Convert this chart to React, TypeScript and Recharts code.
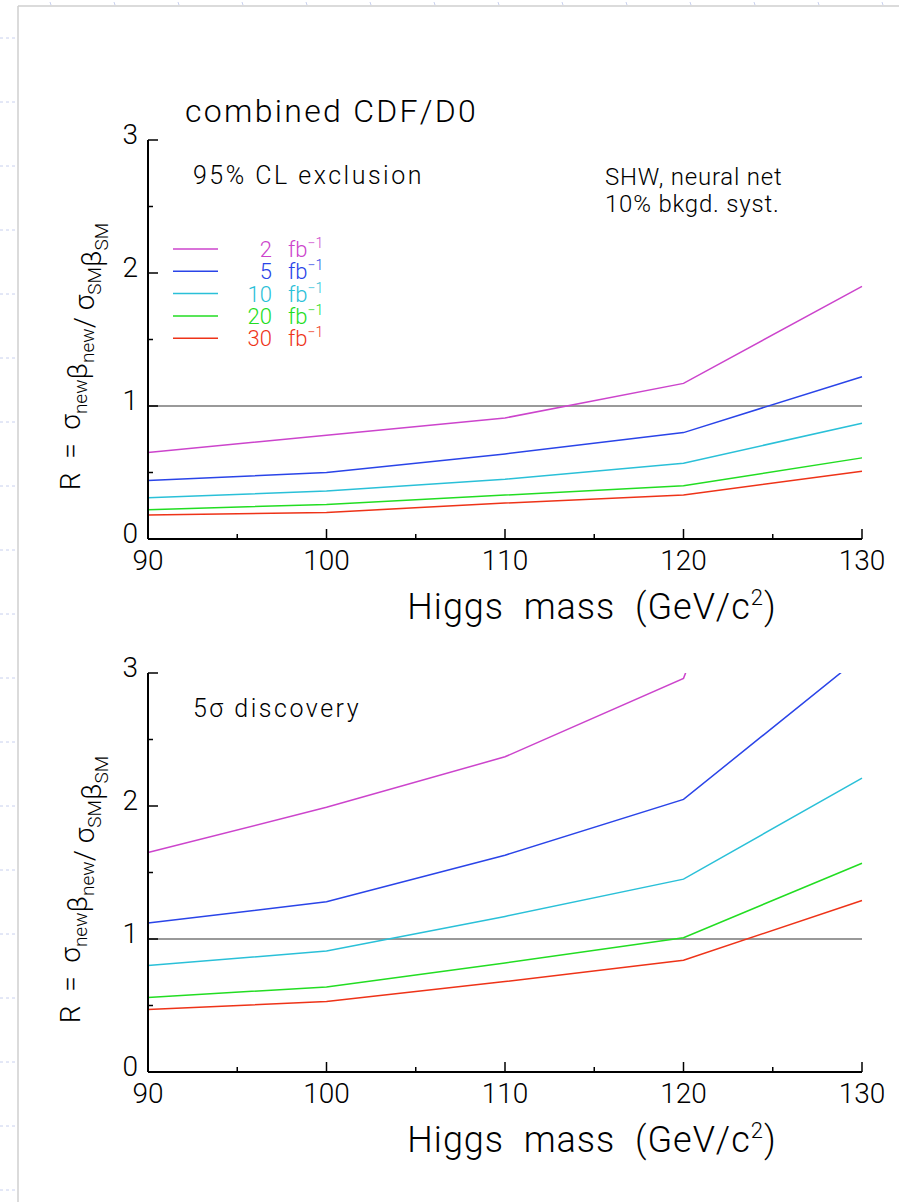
import React from "react";
import { LineChart, Line, XAxis, YAxis, ReferenceLine, Legend } from "recharts";

// Higgs mass points (GeV/c^2)
const masses = [90, 100, 110, 120, 130];
const lumiLabels = ["2", "5", "10", "20", "30"];
const lumiColors = ["#cc44cc", "#2a44e8", "#2ac0d8", "#22dd22", "#ee3318"];

// 95% CL exclusion, R per luminosity
const excl2 = [0.65, 0.78, 0.91, 1.17, 1.9];
const excl5 = [0.44, 0.5, 0.64, 0.8, 1.22];
const excl10 = [0.31, 0.36, 0.45, 0.57, 0.87];
const excl20 = [0.22, 0.26, 0.33, 0.4, 0.61];
const excl30 = [0.18, 0.2, 0.27, 0.33, 0.51];

// 5 sigma discovery, R per luminosity
const disc2 = [1.65, 1.99, 2.37, 2.96, 6.4];
const disc5 = [1.12, 1.28, 1.63, 2.05, 3.13];
const disc10 = [0.8, 0.91, 1.17, 1.45, 2.21];
const disc20 = [0.56, 0.64, 0.82, 1.01, 1.57];
const disc30 = [0.47, 0.53, 0.68, 0.84, 1.29];

const xTicks = [90, 95, 100, 105, 110, 115, 120, 125, 130];
const yTicks = [0, 0.5, 1, 1.5, 2, 2.5, 3];

const FONT = "Roboto, 'Liberation Sans', Arial, sans-serif";
const W = 300;
const MAJ = 10;
const MIN = 5;

function BottomTick(p: any) {
  const { x, y, payload } = p;
  const axisY = y - 10;
  const major = payload.value % 10 === 0;
  return (
    <g>
      <line x1={x} x2={x} y1={axisY} y2={axisY - (major ? MAJ : MIN)} stroke="#000" strokeWidth={1.5} />
      {major && (
        <text x={x} y={axisY + 31} textAnchor="middle" fontSize={28} fontWeight={W} fill="#000">
          {payload.value}
        </text>
      )}
    </g>
  );
}

function TopTick(p: any) {
  const { x, y, payload } = p;
  const major = payload.value % 10 === 0;
  return <line x1={x} x2={x} y1={y} y2={y + (major ? MAJ : MIN)} stroke="#000" strokeWidth={1.5} />;
}

function LeftTick(p: any) {
  const { x, y, payload } = p;
  const axisX = x + 10;
  const major = Number.isInteger(payload.value);
  return (
    <g>
      <line x1={axisX} x2={axisX + (major ? MAJ : MIN)} y1={y} y2={y} stroke="#000" strokeWidth={1.5} />
      {major && (
        <text x={x} y={y + 4} textAnchor="end" fontSize={28} fontWeight={W} fill="#000">
          {payload.value}
        </text>
      )}
    </g>
  );
}

function RightTick(p: any) {
  const { x, y, payload } = p;
  const major = Number.isInteger(payload.value);
  return <line x1={x} x2={x - (major ? MAJ : MIN)} y1={y} y2={y} stroke="#000" strokeWidth={1.5} />;
}

const renderXTitle = (props: any) => {
  const vb = props.viewBox;
  return (
    <text
      x={vb.x + vb.width / 2 + 87}
      y={vb.y + 80}
      textAnchor="middle"
      fontSize={36}
      fontWeight={W}
      letterSpacing={1}
      fill="#000"
      style={{ whiteSpace: "pre" }}
    >
      {"Higgs  mass  (GeV/c"}
      <tspan fontSize={22} dy={-14}>2</tspan>
      <tspan dy={14}>)</tspan>
    </text>
  );
};

const renderYTitle = (props: any) => {
  const vb = props.viewBox;
  const cx = vb.x + 80;
  const cy = vb.y + vb.height / 2 + 17;
  const sub = (s: string) => (
    <>
      <tspan fontSize={19} dy={7}>{s}</tspan>
      <tspan dy={-7}>{""}</tspan>
    </>
  );
  return (
    <text
      x={cx}
      y={cy}
      transform={`rotate(-90, ${cx}, ${cy})`}
      textAnchor="middle"
      fontSize={28}
      fontWeight={W}
      fill="#000"
      style={{ whiteSpace: "pre" }}
    >
      {"R  =  σ"}
      {sub("new")}
      <tspan>β</tspan>
      {sub("new")}
      <tspan>/ σ</tspan>
      {sub("SM")}
      <tspan>β</tspan>
      {sub("SM")}
    </text>
  );
};

const renderLegend = (props: any) => {
  const items = [...(props.payload ?? [])].sort(
    (a: any, b: any) => lumiLabels.indexOf(String(a.value)) - lumiLabels.indexOf(String(b.value))
  );
  return (
    <svg width={170} height={120} style={{ fontFamily: FONT }}>
      {items.map((it: any, i: number) => {
        const y = 17 + i * 22.3;
        return (
          <g key={it.value}>
            <line x1={8} x2={53} y1={y} y2={y} stroke={it.color} strokeWidth={1.5} />
            <text x={107} y={y + 8} textAnchor="end" fontSize={22} fontWeight={W} fill={it.color}>
              {it.value}
            </text>
            <text x={123} y={y + 8} fontSize={22} fontWeight={W} fill={it.color}>
              fb
              <tspan fontSize={14} dy={-9}>−1</tspan>
            </text>
          </g>
        );
      })}
    </svg>
  );
};

function Panel({ series, top, legend }: { series: number[][]; top: number; legend?: boolean }) {
  const rows = masses.map((m, i) => {
    const row: Record<string, number> = { m };
    lumiLabels.forEach((l, k) => {
      row["L" + l] = series[k][i];
    });
    return row;
  });
  return (
    <div style={{ position: "absolute", left: 0, top }}>
      <LineChart width={899} height={640} data={rows} margin={{ top: 140, right: 37, bottom: 0, left: 0 }}>
        <XAxis
          xAxisId="b"
          dataKey="m"
          type="number"
          domain={[90, 130]}
          ticks={xTicks}
          interval={0}
          height={101}
          tickSize={0}
          tickMargin={10}
          tickLine={false}
          tick={(p: any) => <BottomTick {...p} />}
          axisLine={{ stroke: "#000", strokeWidth: 2 }}
          label={renderXTitle}
        />
        <XAxis
          xAxisId="t"
          orientation="top"
          type="number"
          domain={[90, 130]}
          ticks={xTicks}
          interval={0}
          height={0}
          tickSize={0}
          tickMargin={0}
          tickLine={false}
          tick={(p: any) => <TopTick {...p} />}
          axisLine={{ stroke: "#000", strokeWidth: 2 }}
        />
        <YAxis
          yAxisId="l"
          type="number"
          domain={[0, 3]}
          allowDataOverflow
          ticks={yTicks}
          interval={0}
          width={148}
          tickSize={0}
          tickMargin={10}
          tickLine={false}
          tick={(p: any) => <LeftTick {...p} />}
          axisLine={{ stroke: "#000", strokeWidth: 2 }}
          label={renderYTitle}
        />
        <YAxis
          yAxisId="r"
          orientation="right"
          type="number"
          domain={[0, 3]}
          ticks={yTicks}
          interval={0}
          width={0}
          tickSize={0}
          tickMargin={0}
          tickLine={false}
          tick={(p: any) => <RightTick {...p} />}
          axisLine={{ stroke: "#000", strokeWidth: 2 }}
        />
        <ReferenceLine xAxisId="b" yAxisId="l" y={1} stroke="#777" strokeWidth={1.5} />
        {lumiLabels.map((l, k) => (
          <Line
            key={l}
            xAxisId="b"
            yAxisId="l"
            type="linear"
            dataKey={"L" + l}
            name={l}
            stroke={lumiColors[k]}
            strokeWidth={1.5}
            dot={false}
            isAnimationActive={false}
          />
        ))}
        {legend && (
          <Legend
            layout="horizontal"
            verticalAlign="middle"
            align="center"
            content={renderLegend}
            wrapperStyle={{ left: 165, top: 232, width: 170, height: 120 }}
          />
        )}
      </LineChart>
    </div>
  );
}

const topMarks = [50, 114, 178, 242, 306, 370, 434, 498, 562, 626, 690, 754, 818, 882];
const sideMarks = [38, 102, 166, 230, 294, 358, 422, 486, 550, 614, 678, 742, 806, 870, 934, 998, 1062, 1126, 1190];

export default function App() {
  return (
    <div
      style={{
        position: "absolute",
        left: 0,
        top: 0,
        width: 899,
        height: 1202,
        background: "#fff",
        fontFamily: FONT,
        overflow: "hidden",
      }}
    >
      <svg width={899} height={1202} style={{ position: "absolute", left: 0, top: 0 }}>
        <line x1={18} y1={6} x2={18} y2={1202} stroke="#cfcfcf" strokeWidth={1.5} />
        <line x1={18} y1={6} x2={899} y2={6} stroke="#cfcfcf" strokeWidth={1.5} />
        {topMarks.map((x) => (
          <line key={x} x1={x} x2={x + 1} y1={2} y2={5} stroke="#c8d0ee" strokeWidth={1} />
        ))}
        {sideMarks.map((y) => (
          <line key={y} x1={0} x2={16} y1={y} y2={y} stroke="#c8d0ee" strokeWidth={1} strokeDasharray="3 3" />
        ))}
        <g fill="#000" fontWeight={W} style={{ whiteSpace: "pre" }}>
          <text x={185} y={122} fontSize={32} letterSpacing={2.3}>{"combined  CDF/D0"}</text>
          <text x={193} y={184} fontSize={25} letterSpacing={2.5}>{"95%  CL  exclusion"}</text>
          <text x={605} y={185} fontSize={24} letterSpacing={0.8}>{"SHW,  neural  net"}</text>
          <text x={605} y={212} fontSize={24} letterSpacing={0.8}>{"10%  bkgd.  syst."}</text>
          <text x={193} y={717} fontSize={25} letterSpacing={2.5}>{"5σ   discovery"}</text>
        </g>
      </svg>
      <Panel series={[excl2, excl5, excl10, excl20, excl30]} top={0} legend />
      <Panel series={[disc2, disc5, disc10, disc20, disc30]} top={533} />
    </div>
  );
}
